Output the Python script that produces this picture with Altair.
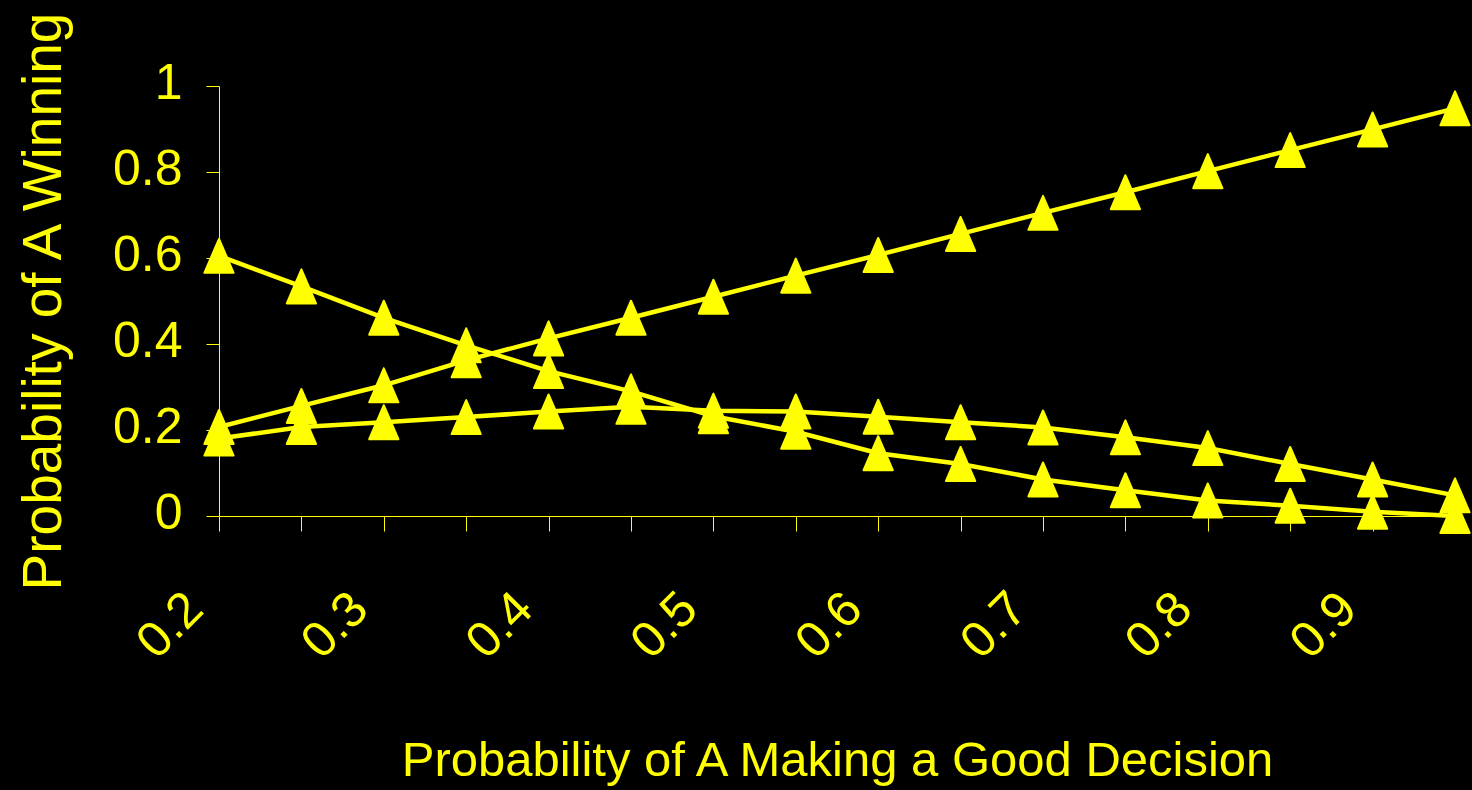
import altair as alt
import pandas as pd

# Probability of A making a good decision (x positions)
decision_prob = [0.20, 0.25, 0.30, 0.35, 0.40, 0.45, 0.50, 0.55,
                 0.60, 0.65, 0.70, 0.75, 0.80, 0.85, 0.90, 0.95]

# Three outcome curves
curve_rising = [0.207, 0.256, 0.304, 0.362, 0.413, 0.461, 0.510, 0.559,
                0.607, 0.656, 0.705, 0.753, 0.802, 0.851, 0.899, 0.948]
curve_falling = [0.605, 0.534, 0.461, 0.397, 0.337, 0.290, 0.232, 0.196,
                 0.146, 0.121, 0.085, 0.060, 0.036, 0.024, 0.010, 0.000]
curve_middle = [0.180, 0.207, 0.218, 0.230, 0.243, 0.254, 0.245, 0.243,
                0.231, 0.218, 0.206, 0.183, 0.158, 0.121, 0.085, 0.048]

y_ticks = [0, 0.2, 0.4, 0.6, 0.8, 1]

YELLOW = "#FFFF00"
FONT = "Liberation Sans, Arial, sans-serif"

rows = []
for name, vals in [("rising", curve_rising), ("falling", curve_falling), ("middle", curve_middle)]:
    for p, v in zip(decision_prob, vals):
        rows.append({"series": name, "p": p, "v": v})
df = pd.DataFrame(rows)

x_enc = alt.X(
    "p:Q",
    scale=alt.Scale(domain=[0.2, 0.95], nice=False, zero=False),
    axis=alt.Axis(
        values=decision_prob,
        labelExpr="round(datum.value * 100) % 10 == 0 ? format(datum.value, '.1f') : ''",
        labelAngle=-45,
        labelAlign="right",
        labelBaseline="top",
        labelPadding=52,
        labelOffset=-42,
        labelFont=FONT,
        labelFontSize=50,
        labelColor=YELLOW,
        labelOverlap=False,
        labelBound=False,
        labelFlush=False,
        tickSize=15,
        tickColor=YELLOW,
        tickWidth=1,
        domainColor=YELLOW,
        domainWidth=1,
        grid=False,
        title="Probability of A Making a Good Decision",
        titleFont=FONT,
        titleFontSize=49,
        titleFontWeight="normal",
        titleColor=YELLOW,
        titleX=618,
        titleY=259,
        titleAlign="center",
        titleBaseline="alphabetic",
    ),
)

y_enc = alt.Y(
    "v:Q",
    scale=alt.Scale(domain=[0, 1], nice=False),
    axis=alt.Axis(
        values=y_ticks,
        format=".1~f",
        labelFont=FONT,
        labelFontSize=50,
        labelColor=YELLOW,
        labelPadding=24,
        labelOffset=-3,
        labelBound=False,
        labelFlush=False,
        labelOverlap=False,
        tickSize=13,
        tickColor=YELLOW,
        tickWidth=1,
        domainColor=YELLOW,
        domainWidth=1,
        grid=False,
        title="Probability of A Winning",
        titleFont=FONT,
        titleFontSize=55,
        titleFontWeight="normal",
        titleColor=YELLOW,
        titleAngle=270,
        titleX=-159,
        titleY=215,
        titleAlign="center",
        titleBaseline="alphabetic",
    ),
)

base = alt.Chart(df).encode(x=x_enc, y=y_enc, detail="series:N")

lines = base.mark_line(color=YELLOW, strokeWidth=4.5)

points = base.mark_point(
    shape="M-0.86,1L0.86,1L0,-1Z",
    size=1156,
    filled=True,
    fill=YELLOW,
    stroke=YELLOW,
    strokeWidth=2,
    strokeJoin="round",
    opacity=1,
)

chart = (
    alt.layer(lines, points)
    .properties(
        width=1236,
        height=430,
        padding={"left": 219, "top": 86, "right": 17, "bottom": 274},
        autosize=alt.AutoSizeParams(type="none"),
        background="#000000",
    )
    .configure_view(strokeWidth=0)
)

chart.save("out.html", embed_options={"renderer": "svg", "actions": False})
